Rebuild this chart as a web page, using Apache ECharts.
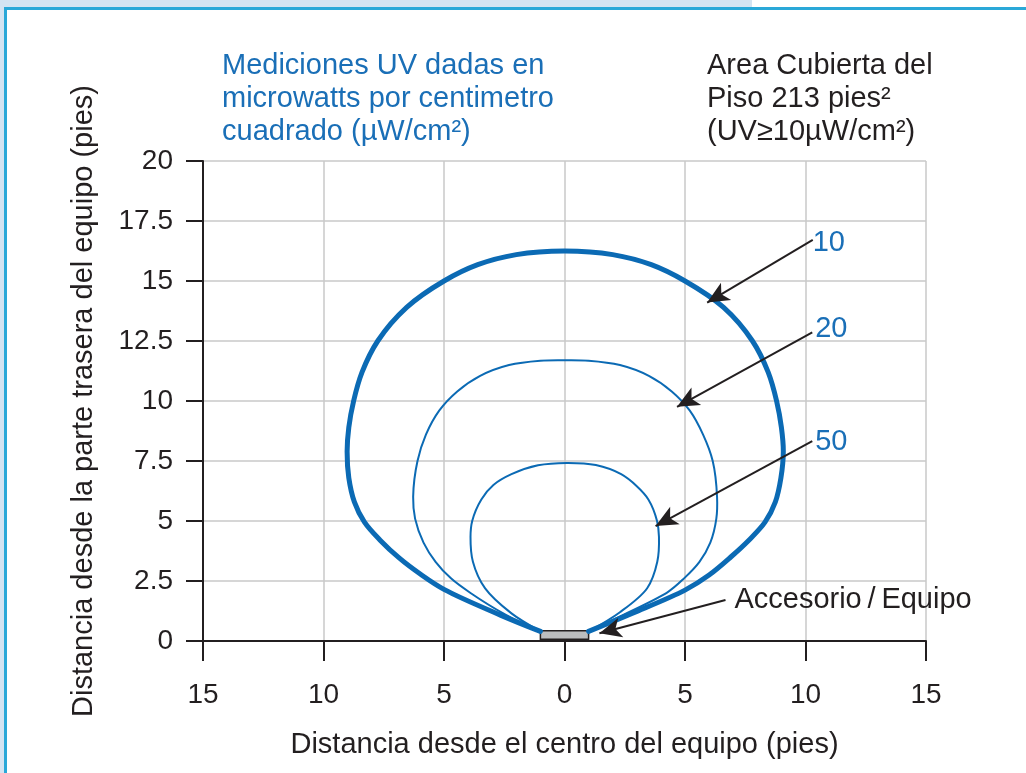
<!DOCTYPE html>
<html>
<head>
<meta charset="utf-8">
<script src="https://cdn.jsdelivr.net/npm/echarts@6/dist/echarts.min.js"></script>
<style>
html,body{margin:0;padding:0;background:#fff;}
#chart{width:1026px;height:773px;}
</style>
</head>
<body>
<div id="chart"></div>
<script>
// ---- data ----
const xTicks = [-15, -10, -5, 0, 5, 10, 15];
const yTicks = [0, 2.5, 5, 7.5, 10, 12.5, 15, 17.5, 20];

const contour10 = [
  [-1.0,0.4],[-2.66,1.08],[-5.0,2.15],[-6.0,2.8],[-6.85,3.45],[-7.65,4.2],[-8.3,4.95],[-8.72,5.8],
  [-8.95,6.8],[-9.02,7.9],[-8.95,8.9],[-8.75,10.0],[-8.4,11.2],[-7.75,12.5],[-6.55,13.9],[-5.0,15.0],
  [-3.6,15.68],[-2.0,16.1],[0,16.25],[2.0,16.1],[3.6,15.68],[5.0,15.0],[6.6,13.9],[7.8,12.5],
  [8.45,11.2],[8.8,10.0],[9.0,8.9],[9.08,7.9],[8.98,6.8],[8.75,5.8],[8.32,4.95],[7.65,4.2],
  [6.9,3.5],[6.0,2.75],[5.0,2.12],[2.8,1.15],[1.0,0.4]
];
const contour20 = [
  [-1.0,0.4],[-2.45,1.1],[-3.9,2.0],[-4.7,2.6],[-5.35,3.3],[-5.85,4.1],[-6.2,5.1],[-6.28,6.0],
  [-6.1,7.5],[-5.75,8.6],[-5.2,9.6],[-4.45,10.4],[-3.5,11.05],[-2.3,11.5],[-1.0,11.68],[0,11.7],
  [1.0,11.68],[2.3,11.5],[3.5,11.05],[4.45,10.4],[5.2,9.6],[5.75,8.6],[6.15,7.5],[6.33,6.0],
  [6.3,5.1],[6.05,4.1],[5.6,3.3],[4.95,2.6],[4.3,2.05],[2.5,1.12],[1.0,0.4]
];
const contour50 = [
  [-1.0,0.4],[-2.2,1.15],[-3.3,2.2],[-3.8,3.3],[-3.9,4.33],[-3.83,5.0],[-3.45,5.9],[-2.95,6.5],
  [-2.2,6.95],[-1.1,7.32],[0.1,7.42],[1.3,7.33],[2.35,6.95],[3.0,6.45],[3.48,5.9],[3.84,5.0],
  [3.92,4.33],[3.85,3.3],[3.43,2.2],[2.3,1.2],[1.0,0.4]
];
const fixture = [[-1.0,0.07],[1.0,0.43]];
const contourLabels = [
  {name:'10', value:[10.3,16.58]},
  {name:'20', value:[10.4,13.02]},
  {name:'50', value:[10.4,8.28]}
];
const fixtureLabel = {name:'Accesorio\u2009/\u2009Equipo', value:[7.05,1.71]};
const arrows = [
  [[10.3,16.71],[5.92,14.1]],
  [[10.28,12.86],[4.67,9.76]],
  [[10.28,8.33],[3.78,4.79]],
  [[6.68,1.71],[1.45,0.32]]
];

// ---- chart ----
const BLUE = '#0b6ab4';
const LBLUE = '#1a6fb7';
const TXT = '#231f20';
const FONT = '"Liberation Sans", Arial, sans-serif';
const chart = echarts.init(document.getElementById('chart'), null, {renderer:'canvas'});

// centripetal Catmull-Rom path through the points, positioned by the chart's axes (api.coord)
function curveSeries(name, pts, width) {
  return {
    type: 'custom', name: name, z: 3, clip: false,
    data: pts,
    encode: {x: 0, y: 1},
    renderItem: function (params, api) {
      if (params.dataIndex !== 0) return null;
      const p = pts.map(d => api.coord(d));
      const dist = (a, b) => Math.sqrt(Math.hypot(b[0] - a[0], b[1] - a[1]));
      let path = 'M' + p[0][0] + ' ' + p[0][1];
      for (let i = 0; i < p.length - 1; i++) {
        const p1 = p[i], p2 = p[i + 1];
        const p0 = i > 0 ? p[i - 1] : null;
        const p3 = i + 2 < p.length ? p[i + 2] : null;
        const d2 = dist(p1, p2);
        let c1 = p1, c2 = p2;
        if (p0) {
          const d1 = dist(p0, p1);
          const k = 3 * d1 * (d1 + d2);
          c1 = [0, 1].map(j => (d1 * d1 * p2[j] - d2 * d2 * p0[j] + (2 * d1 * d1 + 3 * d1 * d2 + d2 * d2) * p1[j]) / k);
        }
        if (p3) {
          const d3 = dist(p2, p3);
          const k = 3 * d3 * (d3 + d2);
          c2 = [0, 1].map(j => (d3 * d3 * p1[j] - d2 * d2 * p3[j] + (2 * d3 * d3 + 3 * d3 * d2 + d2 * d2) * p2[j]) / k);
        }
        path += ' C' + c1[0] + ' ' + c1[1] + ' ' + c2[0] + ' ' + c2[1] + ' ' + p2[0] + ' ' + p2[1];
      }
      return {
        type: 'path',
        shape: {pathData: path},
        style: {fill: 'none', stroke: BLUE, lineWidth: width, lineJoin: 'round', lineCap: 'round'}
      };
    }
  };
}

const option = {
  backgroundColor: '#ffffff',
  animation: false,
  textStyle: {fontFamily: FONT},
  graphic: [
    {type:'rect', shape:{x:0,y:0,width:752,height:8}, style:{fill:'#d4e4f2'}, z:-1},
    {type:'rect', shape:{x:0,y:0,width:4,height:773}, style:{fill:'#d4e4f2'}, z:-1},
    {type:'rect', shape:{x:4,y:7,width:1022,height:3}, style:{fill:'#2aa8d8'}, z:-1},
    {type:'rect', shape:{x:4,y:7,width:3,height:766}, style:{fill:'#2aa8d8'}, z:-1}
  ],
  title: [
    {
      text: 'Mediciones UV dadas en\nmicrowatts por centimetro\ncuadrado (µW/cm²)',
      left: 217, top: 44,
      textStyle: {color: LBLUE, fontSize: 29, fontWeight: 'normal', lineHeight: 33, fontFamily: FONT}
    },
    {
      text: 'Area Cubierta del\nPiso 213 pies²\n(UV≥10µW/cm²)',
      left: 702, top: 44,
      textStyle: {color: TXT, fontSize: 29, fontWeight: 'normal', lineHeight: 33, fontFamily: FONT}
    }
  ],
  grid: {left: 203, right: 100, top: 161, bottom: 132, containLabel: false},
  xAxis: {
    type: 'value', min: -15, max: 15, interval: 5,
    name: 'Distancia desde el centro del equipo (pies)',
    nameLocation: 'middle', nameGap: 89,
    nameTextStyle: {color: TXT, fontSize: 29, fontFamily: FONT},
    axisLine: {onZero: false, lineStyle: {color: TXT, width: 2}},
    axisTick: {length: 20, lineStyle: {color: TXT, width: 2}},
    axisLabel: {color: TXT, fontSize: 28, margin: 40, formatter: v => String(Math.abs(v)), fontFamily: FONT},
    splitLine: {show: true, lineStyle: {color: '#c9c9c9', width: 1.5}}
  },
  yAxis: {
    type: 'value', min: 0, max: 20, interval: 2.5,
    name: 'Distancia desde la parte trasera del equipo (pies)',
    nameLocation: 'middle', nameGap: 105, nameRotate: 90,
    nameTextStyle: {color: TXT, fontSize: 29, fontFamily: FONT},
    axisLine: {onZero: false, lineStyle: {color: TXT, width: 2}},
    axisTick: {length: 17, lineStyle: {color: TXT, width: 2}},
    axisLabel: {color: TXT, fontSize: 28, margin: 30, formatter: v => String(v), fontFamily: FONT},
    splitLine: {show: true, lineStyle: {color: '#c9c9c9', width: 1.5}}
  },
  series: [
    {
      type: 'line', name: 'fixture', data: [], symbol: 'none',
      markArea: {
        silent: true,
        itemStyle: {color: '#bcbdbf', borderColor: TXT, borderWidth: 1.5, opacity: 1},
        data: [[{coord: fixture[0]}, {coord: fixture[1]}]]
      }
    },
    curveSeries('10', contour10, 5),
    curveSeries('20', contour20, 2),
    curveSeries('50', contour50, 2),
    {
      type: 'scatter', name: 'labels', symbolSize: 0, z: 5,
      itemStyle: {opacity: 1},
      data: contourLabels.map(d => ({name: d.name, value: d.value, label: {color: LBLUE}}))
        .concat([{name: fixtureLabel.name, value: fixtureLabel.value, label: {color: TXT}}]),
      label: {show: true, position: 'right', distance: 0, fontSize: 29, fontFamily: FONT, opacity: 1,
              formatter: p => p.name},
      markLine: {
        silent: true, symbol: ['none', 'arrow'], symbolSize: [15, 22],
        lineStyle: {color: TXT, width: 2, type: 'solid', opacity: 1},
        itemStyle: {color: TXT},
        label: {show: false},
        data: arrows.map(a => [{coord: a[0]}, {coord: a[1]}])
      }
    }
  ]
};
chart.setOption(option);
</script>
</body>
</html>
